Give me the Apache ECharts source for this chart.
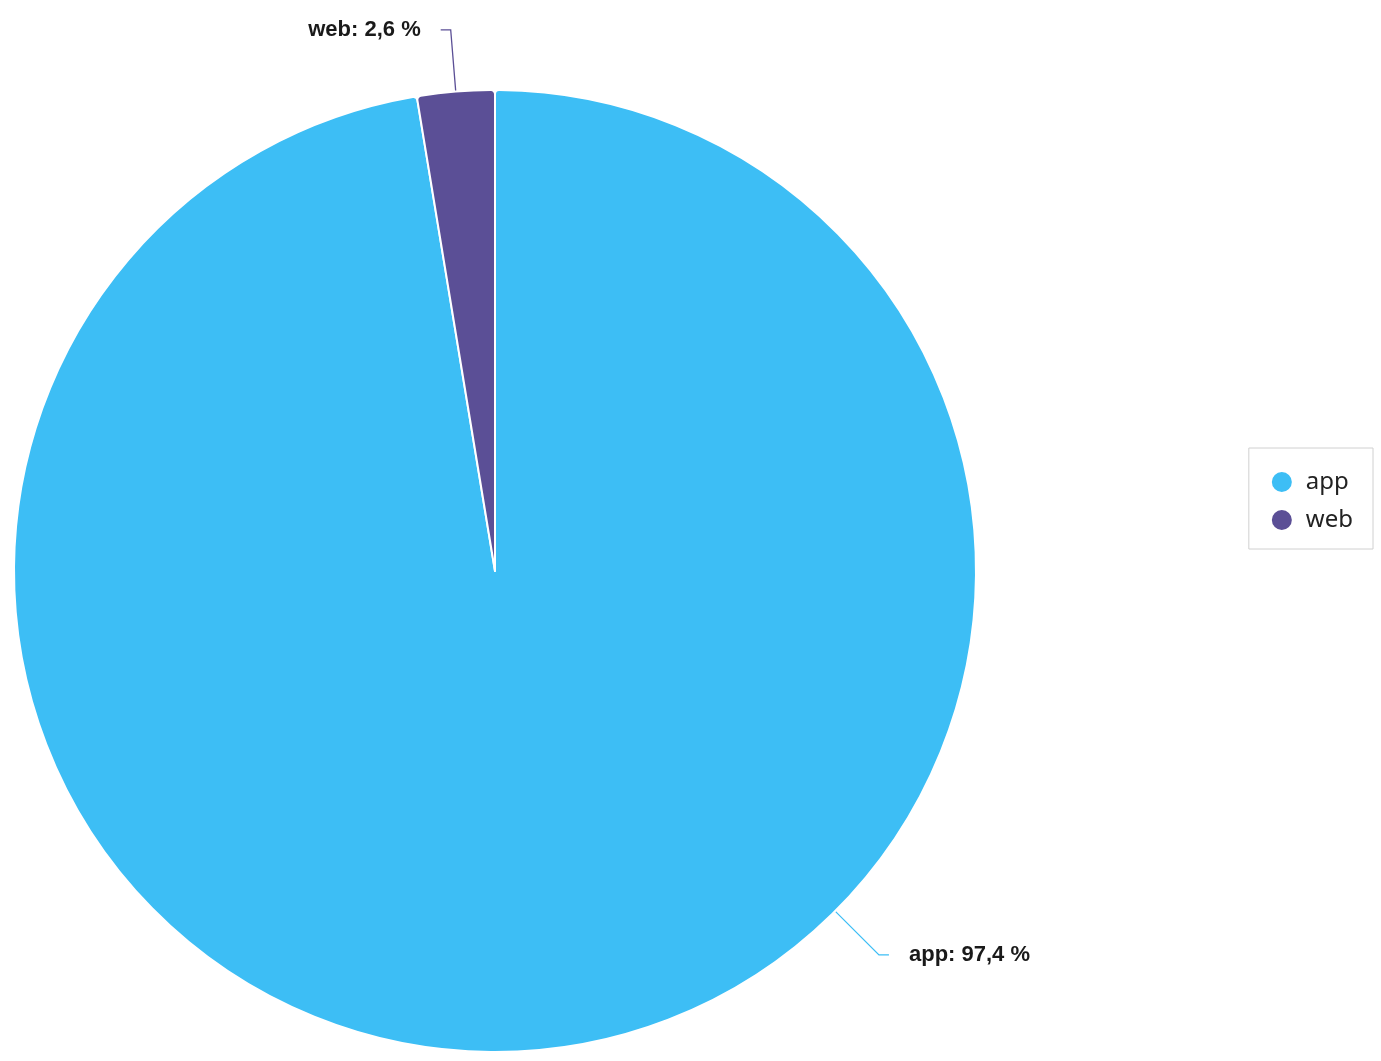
<!DOCTYPE html>
<html>
<head>
<meta charset="utf-8">
<script src="https://cdn.jsdelivr.net/npm/echarts@6/dist/echarts.min.js"></script>
<style>
html,body{margin:0;padding:0;background:#fff;}
#main{width:1381px;height:1061px;}
</style>
</head>
<body>
<div id="main"></div>
<script>
const categories = ['app', 'web'];
const values = [97.4, 2.6];
const colors = ['#3DBEF5', '#5B4F96'];

const CX = 495, CY = 571, R = 481;
const LEN1 = 62, LEN2 = 10, GAP = 20;
const appLabelAngleDeg = 45; // label anchor on the rim, below-right

const chart = echarts.init(document.getElementById('main'));
const fmt = v => v.toFixed(1).replace('.', ',') + ' %';

chart.setOption({
  backgroundColor: '#fff',
  color: colors,
  legend: {
    orient: 'vertical',
    right: 8,
    top: 448,
    data: categories,
    icon: 'circle',
    itemWidth: 22,
    itemHeight: 22,
    itemGap: 14,
    padding: [22, 20, 17, 21],
    borderColor: '#d0d0d0',
    borderWidth: 1,
    textStyle: { fontFamily: 'Noto Sans', fontSize: 24, lineHeight: 24, color: '#222', padding: [0, 0, 0, 8] }
  },
  series: [{
    type: 'pie',
    center: [CX, CY],
    radius: [0, R],
    startAngle: 90,
    clockwise: true,
    avoidLabelOverlap: false,
    itemStyle: { borderColor: '#fff', borderWidth: 2, borderRadius: 4 },
    label: {
      show: true,
      formatter: p => p.name + ': ' + fmt(p.value),
      fontFamily: 'Liberation Sans',
      fontWeight: 'bold',
      fontSize: 22,
      color: '#1a1a1a',
      distanceToLabelLine: GAP
    },
    labelLine: { show: true, length: LEN1, length2: LEN2, lineStyle: { width: 1.3 } },
    labelLayout: function (params) {
      if (params.dataIndex !== 0) return {};
      const a = appLabelAngleDeg * Math.PI / 180;
      const p0 = [CX + R * Math.cos(a), CY + R * Math.sin(a)];
      const p1 = [CX + (R + LEN1) * Math.cos(a), CY + (R + LEN1) * Math.sin(a)];
      const p2 = [p1[0] + LEN2, p1[1]];
      return {
        x: p2[0] + GAP,
        y: p2[1],
        align: 'left',
        verticalAlign: 'middle',
        labelLinePoints: [p0, p1, p2]
      };
    },
    data: categories.map((c, i) => ({ name: c, value: values[i] }))
  }]
});
</script>
</body>
</html>
